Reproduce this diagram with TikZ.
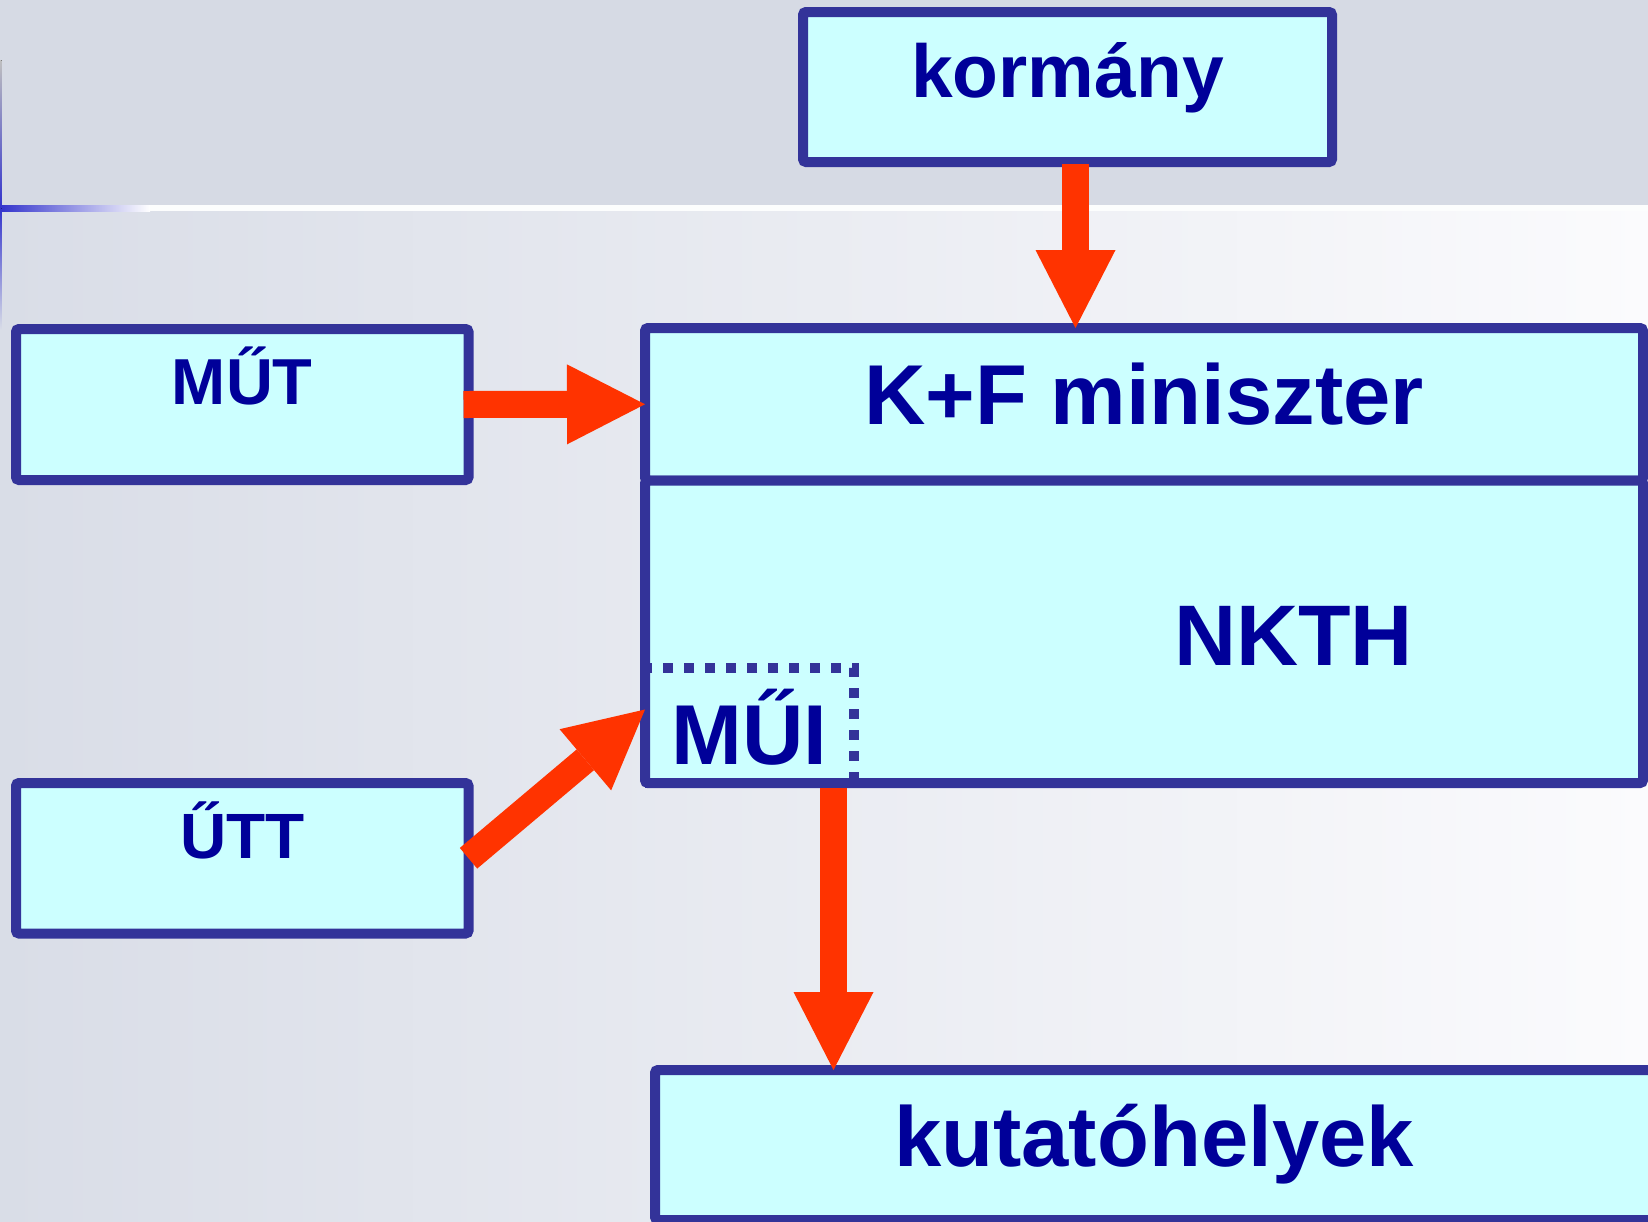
\documentclass[tikz,border=0pt]{standalone}
\usepackage{fontspec}
\setmainfont{Liberation Sans}
\usepackage{tikz}
\usetikzlibrary{arrows.meta}
\definecolor{boxfill}{HTML}{CCFFFF}
\definecolor{boxline}{HTML}{333399}
\definecolor{boxtext}{HTML}{000099}
\definecolor{flowred}{HTML}{FF3300}
\definecolor{topband}{HTML}{D6DAE4}
\definecolor{bgleft}{HTML}{D9DDE7}
\definecolor{bgright}{HTML}{FBFBFD}
\newcommand{\boxfont}[1]{\fontsize{#1}{#1}\selectfont\bfseries}
\tikzset{
	box/.style={draw=boxline, fill=boxfill, line width=10pt, rounded corners=3pt,
		inner sep=0pt, outer sep=0pt, text=boxtext},
	muibox/.style={draw=boxline, line width=10pt, dash pattern=on 10pt off 11pt,
		inner sep=0pt, outer sep=0pt, text=boxtext},
	flow/.style={draw=flowred, line width=27pt,
		-{Triangle[length=78pt,width=80pt,line width=0pt]}}
}

\begin{document}
\begin{tikzpicture}[x=1pt,y=-1pt]
			\useasboundingbox (0,0) rectangle (1648,1221);
			\clip (0,0) rectangle (1648,1221);
			% background
			\fill[topband] (0,0) rectangle (1648,207);
			\fill[left color=bgleft, right color=bgright] (0,207) rectangle (1648,1221);
			\fill[left color=blue!75!black!80, middle color=gray!40, right color=white] (0,205) rectangle (150,211);
			\fill[white!94!topband] (150,205) rectangle (1648,211);
			\fill[top color=gray!50, bottom color=blue!75!black!80] (0,60) rectangle (1.5,208);
			\fill[top color=blue!75!black!80, bottom color=bgleft] (0,208) rectangle (1.5,330);

			\node[box, minimum width=529pt, minimum height=150pt, font={\boxfont{75}},
				text height=55pt, text depth=35pt] (kormany) at (1067.5,87) {kormány};
			\node[box, minimum width=452.5pt, minimum height=151pt, font={\boxfont{65}},
				text height=47pt, text depth=47pt] (mut) at (242.25,404.5) {MŰT};
			\node[box, minimum width=452.5pt, minimum height=150.5pt, font={\boxfont{64}},
				text height=46pt, text depth=46pt] (utt) at (242.25,858.25) {ŰTT};
			\node[box, minimum width=998pt, minimum height=152.5pt, font={\boxfont{85}},
				text height=61pt, text depth=21pt] (kf) at (1144,404.25) {K+F miniszter};
			\node[box, minimum width=998pt, minimum height=302.5pt, font={\boxfont{86}},
				text height=68pt, text depth=0pt, text width=538pt, align=right] (nkth) at (1144,631.75) {NKTH};
			\node[muibox, minimum width=208.5pt, minimum height=115pt, font={\boxfont{85}},
				text height=77pt, text depth=0pt] (mui) at (749.25,725.5) {MŰI};
			\node[box, minimum width=998pt, minimum height=150pt, font={\boxfont{85}},
				text height=62pt, text depth=20pt] (kutato) at (1154,1145) {kutatóhelyek};

			\draw[flow] ([xshift=8pt,yshift=-2pt]kormany.south) -- ([xshift=8pt]kormany.south |- kf.north);
			\draw[flow] ([xshift=-5pt]mut.east) -- (kf.west);
			\draw[flow] (utt.east) -- ([yshift=16pt]mui.west);
			\draw[flow] ([xshift=-20pt,yshift=-5pt]mui.south east) -- ([xshift=-20pt]mui.south east |- kutato.north);
		\end{tikzpicture}
\end{document}
